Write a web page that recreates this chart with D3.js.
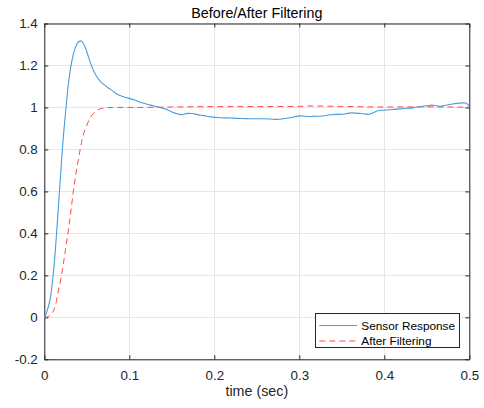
<!DOCTYPE html>
<html><head><meta charset="utf-8">
<script src="https://cdn.jsdelivr.net/npm/d3@7"></script>
<style>body{margin:0;background:#fff}svg{display:block}text{font-family:"Liberation Sans",Arial,sans-serif}</style>
</head><body>
<script>
const sensorT = [0,0.002,0.004,0.007,0.010,0.013,0.016,0.019,0.022,0.025,0.028,0.031,0.034,0.037,0.040,0.043,0.046,0.049,0.052,0.055,0.058,0.062,0.066,0.070,0.075,0.080,0.087,0.094,0.101,0.107,0.113,0.119,0.125,0.131,0.137,0.143,0.149,0.156,0.162,0.168,0.174,0.180,0.188,0.196,0.207,0.218,0.226,0.234,0.242,0.250,0.258,0.266,0.273,0.281,0.289,0.295,0.301,0.307,0.313,0.319,0.325,0.331,0.337,0.343,0.349,0.355,0.361,0.367,0.372,0.377,0.382,0.387,0.392,0.398,0.403,0.410,0.418,0.426,0.434,0.440,0.446,0.451,0.456,0.461,0.466,0.471,0.477,0.482,0.487,0.492,0.496,0.499,0.500];
const sensorV = [0,0.015,0.040,0.090,0.185,0.320,0.490,0.670,0.840,0.975,1.100,1.190,1.250,1.290,1.312,1.317,1.305,1.277,1.240,1.205,1.175,1.145,1.124,1.110,1.094,1.080,1.060,1.050,1.042,1.034,1.025,1.018,1.011,1.005,0.999,0.992,0.981,0.970,0.966,0.972,0.971,0.966,0.961,0.955,0.951,0.950,0.948,0.947,0.946,0.946,0.946,0.945,0.943,0.946,0.951,0.956,0.960,0.958,0.957,0.958,0.958,0.962,0.965,0.967,0.967,0.970,0.974,0.973,0.971,0.969,0.967,0.975,0.984,0.987,0.988,0.990,0.993,0.996,0.998,1.002,1.006,1.009,1.011,1.008,1.005,1.009,1.014,1.018,1.020,1.022,1.021,1.011,1.006];
const filtT = [0,0.005,0.010,0.013,0.016,0.020,0.025,0.030,0.035,0.040,0.045,0.050,0.055,0.060,0.065,0.070,0.080,0.100,0.150,0.200,0.250,0.300,0.310,0.350,0.400,0.450,0.500];
const filtV = [0,0.004,0.025,0.055,0.115,0.195,0.325,0.465,0.625,0.750,0.855,0.915,0.957,0.980,0.992,0.997,1.000,1.000,1.002,1.004,1.004,1.005,1.007,1.005,1.002,1.003,1.001];
const xTicks = [0,0.1,0.2,0.3,0.4,0.5];
const yTicks = [-0.2,0,0.2,0.4,0.6,0.8,1,1.2,1.4];
const seriesNames = ["Sensor Response","After Filtering"];
const titleText = "Before/After Filtering";
const xLabel = "time (sec)";

const W=484,H=408;
const L=44.3,R=469.3,T=23.5,B=359.3;
const svg=d3.select("body").append("svg").attr("width",W).attr("height",H);
const x=d3.scaleLinear().domain([0,0.5]).range([L,R]);
const y=d3.scaleLinear().domain([-0.2,1.4]).range([B,T]);
const axCol="#262626", gridCol="#e6e6e6";

// grid
svg.append("g").selectAll("line.gx").data(xTicks).join("line")
  .attr("x1",d=>x(d)).attr("x2",d=>x(d)).attr("y1",T).attr("y2",B)
  .attr("stroke",gridCol).attr("stroke-width",1).attr("shape-rendering","crispEdges");
svg.append("g").selectAll("line.gy").data(yTicks).join("line")
  .attr("x1",L).attr("x2",R).attr("y1",d=>y(d)).attr("y2",d=>y(d))
  .attr("stroke",gridCol).attr("stroke-width",1).attr("shape-rendering","crispEdges");

const fmt=d=>String(+d.toFixed(2));
// axes
const gx=svg.append("g").attr("transform",`translate(0,${B})`).call(d3.axisBottom(x).tickValues(xTicks).tickFormat(fmt).tickSizeInner(-4).tickSizeOuter(0).tickPadding(11.5));
const gy=svg.append("g").attr("transform",`translate(${L},0)`).call(d3.axisLeft(y).tickValues(yTicks).tickFormat(fmt).tickSizeInner(-4).tickSizeOuter(0).tickPadding(6.5));
const gxt=svg.append("g").attr("transform",`translate(0,${T})`).call(d3.axisTop(x).tickValues(xTicks).tickFormat("").tickSizeInner(-4).tickSizeOuter(0));
const gyr=svg.append("g").attr("transform",`translate(${R},0)`).call(d3.axisRight(y).tickValues(yTicks).tickFormat("").tickSizeInner(-4).tickSizeOuter(0));
[gx,gy,gxt,gyr].forEach(g=>{
  g.selectAll("path").attr("stroke",axCol).attr("stroke-width",1);
  g.selectAll("line").attr("stroke",axCol);
  g.selectAll("text").attr("fill",axCol).style("font-size","13.4px").style("font-family",'"Liberation Sans",Arial,sans-serif');
});

// lines
const line=d3.line().x(d=>x(d[0])).y(d=>y(d[1])).curve(d3.curveMonotoneX);
const sensorData=sensorT.map((t,i)=>[t,sensorV[i]]);
const filtData=filtT.map((t,i)=>[t,filtV[i]]);
svg.append("path").datum(filtData).attr("d",line).attr("fill","none")
  .attr("stroke","#ff4a4a").attr("stroke-width",1).attr("stroke-dasharray","6,4");
svg.append("path").datum(sensorData).attr("d",line).attr("fill","none")
  .attr("stroke","#4a9bd8").attr("stroke-width",1.1);

// title and label
svg.append("text").attr("x",(L+R)/2).attr("y",18.3).attr("text-anchor","middle")
  .attr("fill","#000").style("font-size","14.3px").text(titleText);
svg.append("text").attr("x",(L+R)/2).attr("y",396).attr("text-anchor","middle")
  .attr("fill",axCol).style("font-size","14.3px").text(xLabel);

// legend
const lg=svg.append("g");
lg.append("rect").attr("x",315.5).attr("y",313.5).attr("width",144).attr("height",34)
  .attr("fill","#fff").attr("stroke","#262626").attr("stroke-width",1);
const cols=["#4a9bd8","#ff4a4a"], dashes=[null,"6,4"], rows=[325.5,341];
seriesNames.forEach((n,i)=>{
  const l=lg.append("line").attr("x1",319.3).attr("x2",357).attr("y1",rows[i]).attr("y2",rows[i])
    .attr("stroke",cols[i]).attr("stroke-width",1);
  if(dashes[i]) l.attr("stroke-dasharray",dashes[i]);
  lg.append("text").attr("x",361.3).attr("y",rows[i]).attr("dy","0.35em")
    .attr("fill","#000").style("font-size","11.8px").text(n);
});
</script>
</body></html>
